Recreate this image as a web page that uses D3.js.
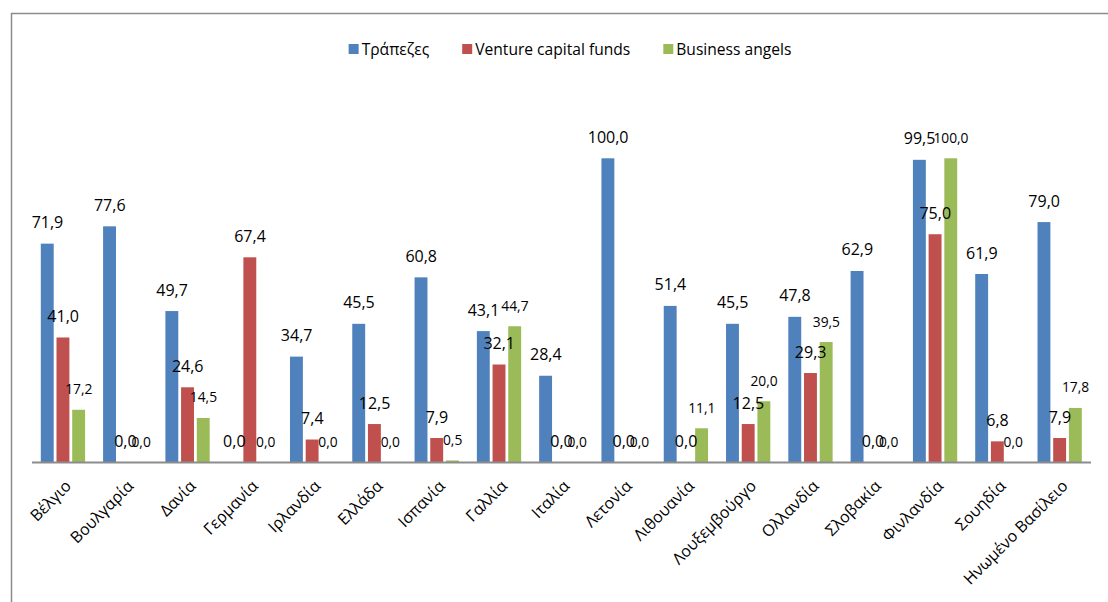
<!DOCTYPE html>
<html>
<head>
<meta charset="utf-8">
<script src="https://cdn.jsdelivr.net/npm/d3@7"></script>
<style>
  html, body { margin: 0; padding: 0; background: #fff; }
  svg { display: block; }
  text { font-family: "Open Sans", "Noto Sans", sans-serif; fill: #000; }
</style>
</head>
<body>
<svg id="chart" width="1108" height="602"></svg>
<script>
// Countries along the category axis
const categories = [
  "Βέλγιο", "Βουλγαρία", "Δανία", "Γερμανία", "Ιρλανδία", "Ελλάδα",
  "Ισπανία", "Γαλλία", "Ιταλία", "Λετονία", "Λιθουανία", "Λουξεμβούργο",
  "Ολλανδία", "Σλοβακία", "Φινλανδία", "Σουηδία", "Ηνωμένο Βασίλειο"
];

// Series names shown in the legend
const seriesNames = ["Τράπεζες", "Venture capital funds", "Business angels"];

// Values (%) per series, in category order
const banks = [71.9, 77.6, 49.7, 0.0, 34.7, 45.5, 60.8, 43.1, 28.4, 100.0, 51.4, 45.5, 47.8, 62.9, 99.5, 61.9, 79.0];
const ventureCapital = [41.0, 0.0, 24.6, 67.4, 7.4, 12.5, 7.9, 32.1, 0.0, 0.0, 0.0, 12.5, 29.3, 0.0, 75.0, 6.8, 7.9];
const businessAngels = [17.2, 0.0, 14.5, 0.0, 0.0, 0.0, 0.5, 44.7, 0.0, 0.0, 11.1, 20.0, 39.5, 0.0, 100.0, 0.0, 17.8];

const seriesValues = [banks, ventureCapital, businessAngels];
const colors = ["#4F81BD", "#C0504D", "#9BBB59"];
const labelSizes = [16, 16, 13.8];

const svg = d3.select("#chart");

// Outer chart frame
svg.append("rect")
  .attr("x", 11.5).attr("y", 13.5)
  .attr("width", 1120).attr("height", 620)
  .attr("fill", "none").attr("stroke", "#8c8c8c").attr("stroke-width", 1.5);

const plotLeft = 32, plotRight = 1091;
const x0 = d3.scaleBand().domain(categories).range([plotLeft, plotRight]).padding(0);
const x1 = d3.scaleBand().domain(d3.range(seriesNames.length))
  .range([7.6, x0.bandwidth() - 7.6]).padding(0);
const y = d3.scaleLinear().domain([0, 100]).range([462, 158.3]);

// Bars
const groups = svg.append("g").selectAll("g")
  .data(categories)
  .join("g")
  .attr("transform", d => `translate(${x0(d)},0)`);

groups.selectAll("rect")
  .data((c, i) => seriesValues.map((vals, s) => ({ s, v: vals[i] })))
  .join("rect")
  .attr("x", d => x1(d.s) + 1.2)
  .attr("width", x1.bandwidth() - 2.8)
  .attr("y", d => y(d.v))
  .attr("height", d => y(0) - y(d.v))
  .attr("fill", d => colors[d.s]);

// Category axis line
svg.append("line")
  .attr("x1", plotLeft).attr("x2", plotRight)
  .attr("y1", y(0) + 0.5).attr("y2", y(0) + 0.5)
  .attr("stroke", "#8c8c8c").attr("stroke-width", 2);

// Value labels above each bar
const fmt = v => v.toFixed(1).replace(".", ",");
groups.selectAll("text.val")
  .data((c, i) => seriesValues.map((vals, s) => ({ s, v: vals[i] })))
  .join("text")
  .attr("class", "val")
  .attr("x", d => x1(d.s) + x1.bandwidth() / 2)
  .attr("y", d => y(d.v) - 15.5)
  .attr("text-anchor", "middle")
  .style("font-size", d => labelSizes[d.s] + "px")
  .text(d => fmt(d.v));

// Rotated category labels
svg.append("g").selectAll("text")
  .data(categories)
  .join("text")
  .attr("text-anchor", "end")
  .attr("transform", d => `translate(${x0(d) + x0.bandwidth() / 2 + 9},487) rotate(-45)`)
  .style("font-size", "16px")
  .text(d => d);

// Legend
const legend = svg.append("g");
let lx = 0;
seriesNames.forEach((name, i) => {
  const item = legend.append("g").attr("transform", `translate(${lx},0)`);
  item.append("rect").attr("x", 0).attr("y", -5).attr("width", 10).attr("height", 10).attr("fill", colors[i]);
  const t = item.append("text").attr("x", 13).attr("y", 5.5)
    .style("font-size", "15.6px").text(name);
  lx += 13 + t.node().getComputedTextLength() + 33;
});
const legendWidth = lx - 33;
legend.attr("transform", `translate(${570 - legendWidth / 2},49)`);
</script>
</body>
</html>
